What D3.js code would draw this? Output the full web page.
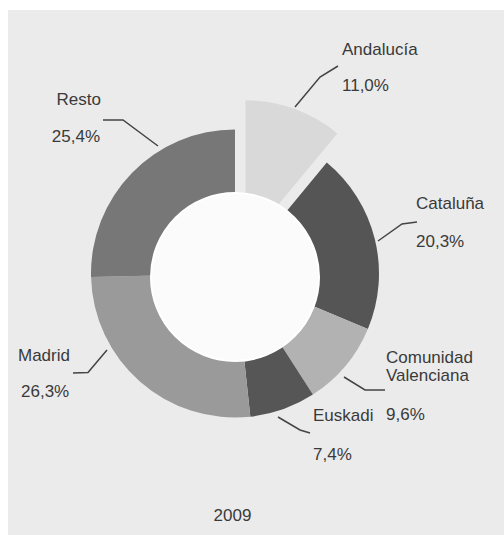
<!DOCTYPE html>
<html>
<head>
<meta charset="utf-8">
<script src="https://cdn.jsdelivr.net/npm/d3@7"></script>
<style>
  body { margin: 0; background: #fff; }
  svg text { font-family: "Liberation Sans", Arial, sans-serif; fill: #3a3a3a; }
</style>
</head>
<body>
<div id="graph"></div>
<script>
// data
const regiones = ["Andalucía", "Cataluña", "Comunidad Valenciana", "Euskadi", "Madrid", "Resto"];
const cuotas = [11.0, 20.3, 9.6, 7.4, 26.3, 25.4];
const etiquetas = ["11,0%", "20,3%", "9,6%", "7,4%", "26,3%", "25,4%"];
const anio = "2009";

// style
const colores = ["#d9d9d9", "#555555", "#b2b2b2", "#565656", "#9a9a9a", "#777777"];

// label layout: name lines, position, leader polyline
const rotulos = [
    { lines: ["Andalucía"], x: 342, y: 55, py: 91, anchor: "start", leader: [[295, 107], [320, 77], [338, 66]] },
    { lines: ["Cataluña"], x: 416, y: 209, py: 247, anchor: "start", leader: [[378, 241], [402, 224], [417, 222]] },
    { lines: ["Comunidad", "Valenciana"], x: 386, y: 363, py: 420, anchor: "start", leader: [[344, 377], [365, 390], [385, 390]] },
    { lines: ["Euskadi"], x: 313, y: 421, py: 460, anchor: "start", leader: [[278, 417], [300, 430], [310, 433]] },
    { lines: ["Madrid"], x: 18, y: 361, px: 21, py: 397, anchor: "start", leader: [[107, 350], [88, 372.5], [73, 373]] },
    { lines: ["Resto"], x: 101, y: 105, px: 100, py: 142, anchor: "end", leader: [[158, 146], [123, 120], [103, 120]] }
];

const W = 504, H = 535;
const cx = 235, cy = 273.5;
const outerR = 144, innerR = 78;
const explode = 31;

let svg = d3.select("#graph")
    .append("svg")
    .attr("width", W)
    .attr("height", H);

// panel background
svg.append("rect")
    .attr("x", 8)
    .attr("y", 10)
    .attr("width", W - 8)
    .attr("height", H - 10)
    .attr("fill", "#ebebeb");

let pie = d3.pie()
    .sort(null)
    .value((d) => d)
    .startAngle(0)
    .endAngle(2 * Math.PI);

let arcs = pie(cuotas);

let arc = d3.arc()
    .innerRadius((d, i) => i === 0 ? 40 : innerR)
    .outerRadius(outerR);

let g = svg.append("g")
    .attr("transform", "translate(" + cx + "," + cy + ")");

g.selectAll("path.slice")
    .data(arcs)
    .enter()
    .append("path")
    .attr("class", "slice")
    .attr("d", (d, i) => d3.arc().innerRadius(i === 0 ? 40 : innerR).outerRadius(outerR)(d))
    .attr("transform", (d, i) => {
        if (i !== 0) return null;
        let a = (d.startAngle + d.endAngle) / 2;
        return "translate(" + (Math.sin(a) * explode) + "," + (-Math.cos(a) * explode) + ")";
    })
    .attr("fill", (d, i) => colores[i]);

// donut hole
svg.append("circle")
    .attr("cx", cx)
    .attr("cy", cy + 3.5)
    .attr("r", 84)
    .attr("fill", "#fbfbfb")
    .attr("stroke", "#ffffff")
    .attr("stroke-width", 2);

// leaders
let line = d3.line().curve(d3.curveLinear);

svg.selectAll("path.leader")
    .data(rotulos)
    .enter()
    .append("path")
    .attr("class", "leader")
    .attr("d", (d) => line(d.leader))
    .attr("fill", "none")
    .attr("stroke", "#444")
    .attr("stroke-width", 1.5);

// labels
rotulos.forEach((r, i) => {
    r.lines.forEach((t, j) => {
        svg.append("text")
            .attr("x", r.x)
            .attr("y", r.y + j * 18)
            .attr("font-size", "17px")
            .style("text-anchor", r.anchor)
            .text(t);
    });
    svg.append("text")
        .attr("x", r.px !== undefined ? r.px : r.x)
        .attr("y", r.py)
        .attr("font-size", "17px")
        .style("text-anchor", r.anchor)
        .text(etiquetas[i]);
});

// year
svg.append("text")
    .attr("x", 232.5)
    .attr("y", 521)
    .attr("font-size", "17px")
    .style("text-anchor", "middle")
    .text(anio);
</script>
</body>
</html>
